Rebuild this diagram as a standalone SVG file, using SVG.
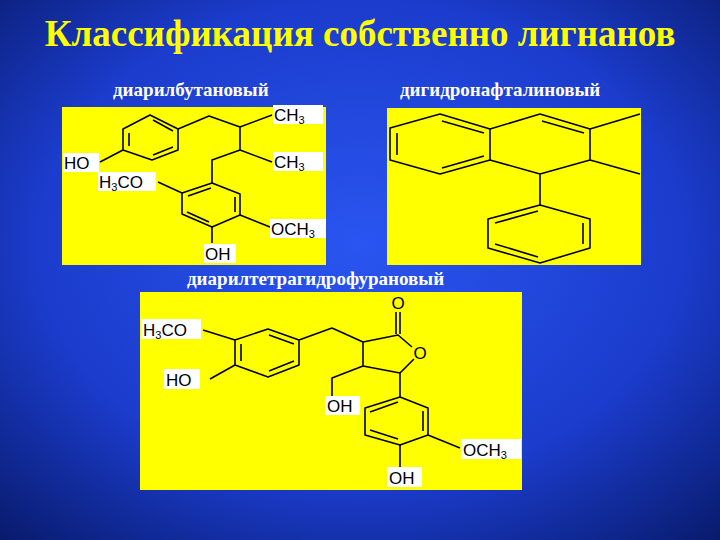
<svg xmlns="http://www.w3.org/2000/svg" width="720" height="540" viewBox="0 0 720 540">
<defs>
<radialGradient id="bg" cx="50%" cy="45%" r="75%">
<stop offset="0" stop-color="#2a55f0"/><stop offset="0.6" stop-color="#1b3ccc"/><stop offset="1" stop-color="#081a6a"/>
</radialGradient>
<style>
.b{stroke:#000;stroke-width:1.6;fill:none;stroke-linejoin:round}
.y{fill:#ffff00}
.t{font-family:"Liberation Sans",Arial,sans-serif;font-size:17px;fill:#000}
.s{font-size:11px}
.lb{fill:#fff}
.h{font-family:"Liberation Serif","Times New Roman",serif;font-weight:bold;fill:#fff;font-size:19px}
</style>
</defs>
<rect width="720" height="540" fill="url(#bg)"/>
<text x="360" y="46" text-anchor="middle" font-family="Liberation Serif,serif" font-weight="bold" font-size="37" fill="#ffff00">Классификация собственно лигнанов</text>
<text class="h" x="113" y="96">диарилбутановый</text>
<text class="h" x="400" y="96">дигидронафталиновый</text>
<text class="h" x="187" y="285">диарилтетрагидрофурановый</text>

<g id="p1">
<rect class="y" x="62" y="107" width="264" height="158"/>
<path class="b" d="M123,129 L150,115 L178,129 L178,150 L152,160 L123,150 Z M129,133 L129,146 M153,120 L173,131 M173,147 L153,155"/>
<path class="b" d="M123,150 L100,162 M178,129 L209,116 L240,127 L272,115 M240,127 L240,150 L272,162 M240,150 L212,160 L212,183"/>
<path class="b" d="M212,183 L240,194 L240,215 L212,227 L182,214 L182,193 Z M188,196 L211,188 M235,197 L235,212 M209,222 L187,212"/>
<path class="b" d="M182,193 L158,182 M240,215 L270,227 M212,227 L212,243"/>
<rect class="lb" x="63" y="153" width="36" height="19"/><text class="t" x="64" y="169">HO</text>
<rect class="lb" x="98" y="172" width="58" height="19"/><text class="t" x="99" y="188">H<tspan class="s" dy="3">3</tspan><tspan dy="-3">CO</tspan></text>
<rect class="lb" x="273" y="105" width="50" height="19"/><text class="t" x="274" y="121">CH<tspan class="s" dy="3">3</tspan></text>
<rect class="lb" x="273" y="152" width="50" height="19"/><text class="t" x="274" y="168">CH<tspan class="s" dy="3">3</tspan></text>
<rect class="lb" x="270" y="219" width="56" height="19"/><text class="t" x="271" y="235">OCH<tspan class="s" dy="3">3</tspan></text>
<rect class="lb" x="204" y="244" width="32" height="19"/><text class="t" x="205" y="260">OH</text>
</g>

<g id="p2">
<rect class="y" x="387" y="108" width="254" height="157"/>
<path class="b" d="M390,128 L440,114 L490,129 L490,160 L440,174 L390,160 Z M397,133 L397,155 M442,121 L484,133 M484,156 L442,168"/>
<path class="b" d="M490,129 L540,114 L590,129 L590,160 L540,174 L490,160 M542,121 L584,133 M590,129 L640,114 M590,160 L640,174 M540,174 L540,205"/>
<path class="b" d="M540,205 L590,219 L590,248 L540,263 L488,248 L488,219 Z M495,223 L538,211 M583,223 L583,244 M538,257 L495,244"/>
</g>

<g id="p3">
<rect class="y" x="140" y="292" width="382" height="198"/>
<path class="b" d="M235,340 L268,329 L299,340 L299,365 L268,377 L235,365 Z M241,344 L241,361 M269,335 L294,344 M294,361 L269,371"/>
<path class="b" d="M235,340 L203,330 M235,365 L210,379 M299,340 L332,328 L363,342 L398,335 L412,347 M414,359 L400,373 L363,366 L363,342 M396,334 L396,312 M400,334 L400,312 M363,366 L332,378 L332,397 M400,373 L400,397"/>
<path class="b" d="M400,397 L428,408 L428,435 L400,445 L365,435 L365,408 Z M370,412 L398,402 M423,411 L423,431 M398,439 L370,430"/>
<path class="b" d="M428,435 L460,448 M400,445 L400,467"/>
<text class="t" x="398" y="309" text-anchor="middle">O</text>
<text class="t" x="420" y="359" text-anchor="middle">O</text>
<rect class="lb" x="141" y="319" width="60" height="20"/><text class="t" x="143" y="336">H<tspan class="s" dy="3">3</tspan><tspan dy="-3">CO</tspan></text>
<rect class="lb" x="164" y="369" width="36" height="20"/><text class="t" x="166" y="386">HO</text>
<rect class="lb" x="325" y="396" width="35" height="19"/><text class="t" x="327" y="412">OH</text>
<rect class="lb" x="461" y="439" width="60" height="20"/><text class="t" x="463" y="456">OCH<tspan class="s" dy="3">3</tspan></text>
<rect class="lb" x="387" y="467" width="35" height="20"/><text class="t" x="389" y="484">OH</text>
</g>
</svg>
